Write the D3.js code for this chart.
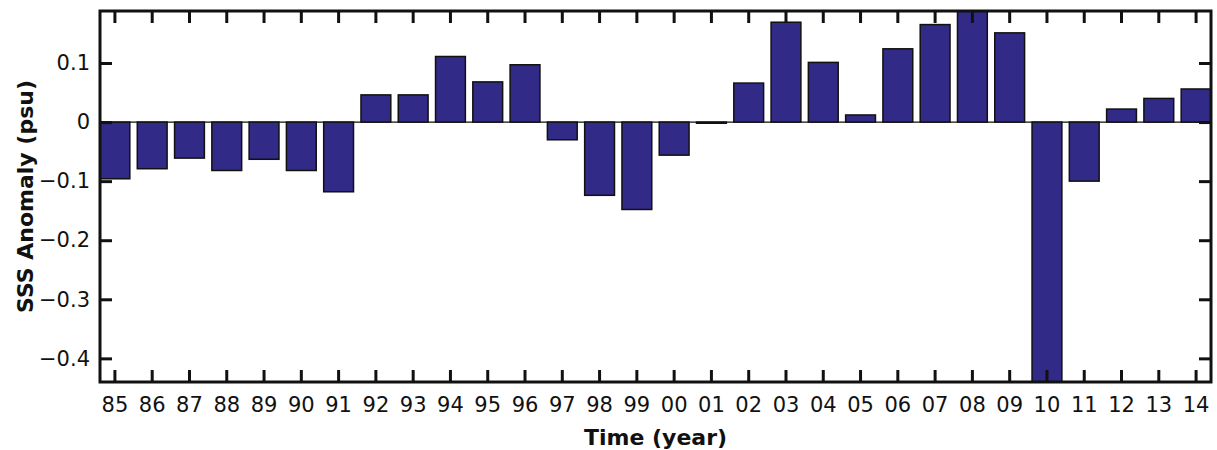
<!DOCTYPE html>
<html>
<head>
<meta charset="utf-8">
<script src="https://d3js.org/d3.v7.min.js"></script>
<style>
  body { margin: 0; background: #fff; }
  text { font-family: "DejaVu Sans", sans-serif; fill: #111; }
</style>
</head>
<body>
<div id="chart-area"></div>
<script>
// years shown on the x axis (two digit labels)
var years = ["85","86","87","88","89","90","91","92","93","94","95","96","97","98","99",
             "00","01","02","03","04","05","06","07","08","09","10","11","12","13","14"];

// SSS anomaly in psu
var anomaly = [-0.096, -0.079, -0.061, -0.082, -0.063, -0.082, -0.118, 0.046, 0.046, 0.111,
               0.068, 0.097, -0.030, -0.124, -0.148, -0.056, -0.002, 0.066, 0.169, 0.101,
               0.012, 0.124, 0.165, 0.195, 0.151, -0.47, -0.100, 0.022, 0.040, 0.056];

var yTicks = [0.1, 0, -0.1, -0.2, -0.3, -0.4];

var width = 1217, height = 450;
var plotLeft = 100, plotRight = 1211, plotTop = 11, plotBottom = 382;

var svg = d3.select("#chart-area")
  .append("svg")
  .attr("width", width)
  .attr("height", height);

var data = years.map((yr, i) => ({ year: yr, value: anomaly[i] }));

var x = d3.scaleBand()
  .domain(years)
  .range([plotLeft, plotRight])
  .paddingInner(0.2)
  .paddingOuter(0);

var y = d3.scaleLinear()
  .domain([-0.44, 0.188])
  .range([plotBottom, plotTop]);

svg.append("clipPath")
  .attr("id", "plot-clip")
  .append("rect")
  .attr("x", plotLeft)
  .attr("y", plotTop)
  .attr("width", plotRight - plotLeft)
  .attr("height", plotBottom - plotTop);

var plot = svg.append("g").attr("clip-path", "url(#plot-clip)");

// zero line
plot.append("line")
  .attr("x1", plotLeft).attr("x2", plotRight)
  .attr("y1", y(0)).attr("y2", y(0))
  .attr("stroke", "#111")
  .attr("stroke-width", 1.2);

plot.selectAll("rect.bar")
  .data(data)
  .enter()
  .append("rect")
  .attr("class", "bar")
  .attr("x", d => x(d.year))
  .attr("y", d => y(Math.max(0, d.value)))
  .attr("width", x.bandwidth())
  .attr("height", d => Math.abs(y(d.value) - y(0)))
  .attr("fill", "#312a87")
  .attr("stroke", "#111")
  .attr("stroke-width", 1.5);

var fmt = d3.format(".1f");
var tickLen = 12;

// bottom axis, ticks point inward
var gx = svg.append("g").attr("transform", "translate(0," + plotBottom + ")")
  .call(d3.axisBottom(x).tickSize(-tickLen).tickPadding(15));

// top axis, no labels
var gxt = svg.append("g").attr("transform", "translate(0," + plotTop + ")")
  .call(d3.axisTop(x).tickSize(-tickLen).tickFormat(""));

// left axis
var gy = svg.append("g").attr("transform", "translate(" + plotLeft + ",0)")
  .call(d3.axisLeft(y).tickValues(yTicks).tickSize(-tickLen)
    .tickPadding(10)
    .tickFormat(d => d === 0 ? "0" : fmt(d)));

// right axis, no labels
var gyr = svg.append("g").attr("transform", "translate(" + plotRight + ",0)")
  .call(d3.axisRight(y).tickValues(yTicks).tickSize(-tickLen).tickFormat(""));

[gx, gxt, gy, gyr].forEach(g => {
  g.select(".domain").remove();
  g.selectAll(".tick line").attr("stroke", "#111").attr("stroke-width", 3);
  g.selectAll(".tick text").attr("font-size", 21).attr("fill", "#111")
    .style("font-family", "DejaVu Sans, sans-serif");
});

// frame
svg.append("rect")
  .attr("x", plotLeft).attr("y", plotTop)
  .attr("width", plotRight - plotLeft).attr("height", plotBottom - plotTop)
  .attr("fill", "none")
  .attr("stroke", "#111")
  .attr("stroke-width", 3);

svg.append("text")
  .attr("x", (plotLeft + plotRight) / 2)
  .attr("y", 445)
  .attr("text-anchor", "middle")
  .attr("font-size", 22)
  .attr("font-weight", "bold")
  .text("Time (year)");

svg.append("text")
  .attr("transform", "translate(33," + ((plotTop + plotBottom) / 2) + ") rotate(-90)")
  .attr("text-anchor", "middle")
  .attr("font-size", 22)
  .attr("font-weight", "bold")
  .text("SSS Anomaly (psu)");
</script>
</body>
</html>
